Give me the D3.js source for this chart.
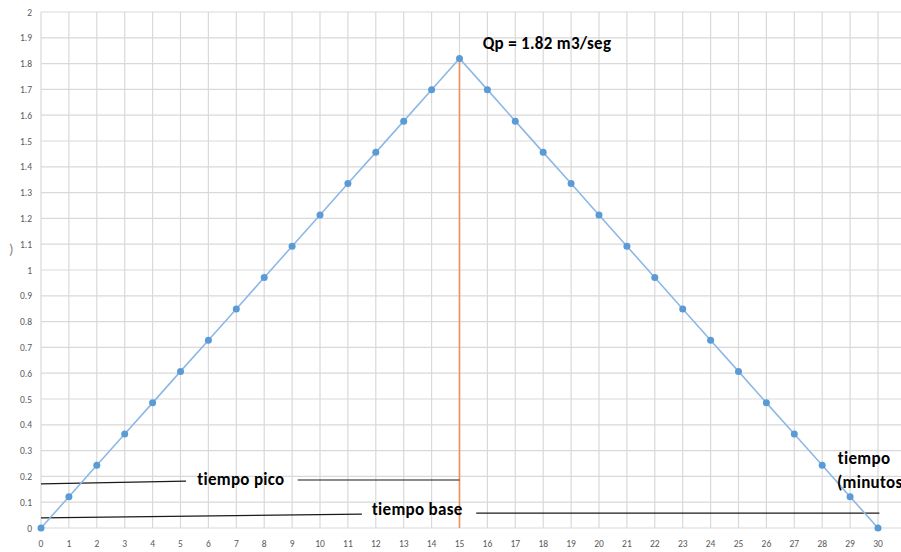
<!DOCTYPE html>
<html><head><meta charset="utf-8">
<script src="https://cdn.jsdelivr.net/npm/d3@7"></script>
<style>body{margin:0;background:#fff;overflow:hidden}svg{display:block}</style>
</head><body>
<svg id="c" width="901" height="552"></svg>
<script>
const timeMin = [0,1,2,3,4,5,6,7,8,9,10,11,12,13,14,15,16,17,18,19,20,21,22,23,24,25,26,27,28,29,30];
const flow = [0,0.121,0.243,0.364,0.485,0.607,0.728,0.849,0.971,1.092,1.213,1.335,1.456,1.577,1.699,1.82,1.699,1.577,1.456,1.335,1.213,1.092,0.971,0.849,0.728,0.607,0.485,0.364,0.243,0.121,0];
const xTicks = d3.range(0,32,1);
const yTicks = [0,0.1,0.2,0.3,0.4,0.5,0.6,0.7,0.8,0.9,1,1.1,1.2,1.3,1.4,1.5,1.6,1.7,1.8,1.9,2];
const peakT = 15, peakQ = 1.82;
const picoLines = [[[0,0.171],[5.2,0.182]],[[9.2,0.186],[15,0.186]]];
const baseLines = [[[0,0.039],[11.5,0.054]],[[15.6,0.058],[30.05,0.058]]];

const svg = d3.select('#c');
const x = d3.scaleLinear().domain([0,31]).range([41,41+27.9*31]);
const y = d3.scaleLinear().domain([0,2]).range([528,12]);

// grid
svg.append('g').selectAll('line').data(yTicks).join('line')
  .attr('x1',41).attr('x2',901).attr('y1',d=>y(d)).attr('y2',d=>y(d))
  .attr('stroke','#d9d9d9').attr('stroke-width',1.2);
svg.append('g').selectAll('line').data(xTicks).join('line')
  .attr('x1',d=>x(d)).attr('x2',d=>x(d)).attr('y1',y(2)).attr('y2',y(0))
  .attr('stroke','#d9d9d9').attr('stroke-width',1.2);

// axis labels
const lf = 'Carlito, Lato, "Liberation Sans", sans-serif';
svg.append('g').selectAll('text').data(yTicks).join('text')
  .attr('x',32).attr('y',d=>y(d)+3.5).attr('text-anchor','end')
  .attr('font-family',lf).attr('font-size',9.5).attr('fill','#595959')
  .text(d=>d3.format('')(d));
svg.append('g').selectAll('text').data(xTicks).join('text')
  .attr('x',d=>x(d)).attr('y',547).attr('text-anchor','middle')
  .attr('font-family',lf).attr('font-size',9.5).attr('fill','#595959')
  .text(d=>d);
svg.append('text').attr('x',9).attr('y',254).attr('font-family',lf).attr('font-size',15).attr('fill','#8a8a8a').text(')');

// orange vertical
svg.append('line').attr('x1',x(peakT)).attr('x2',x(peakT)).attr('y1',y(0)).attr('y2',y(peakQ))
  .attr('stroke','#F0905A').attr('stroke-width',1.6);

// annotation lines
const ln = d3.line().x(d=>x(d[0])).y(d=>y(d[1]));
svg.append('g').selectAll('path').data(picoLines.concat(baseLines)).join('path')
  .attr('d',ln).attr('stroke','#1a1a1a').attr('stroke-width',1.2).attr('fill','none');

// series
const pts = timeMin.map((t,i)=>[t,flow[i]]);
svg.append('path').datum(pts).attr('d',ln).attr('fill','none').attr('stroke','#8DB8E6').attr('stroke-width',1.6);
svg.append('g').selectAll('circle').data(pts).join('circle')
  .attr('cx',d=>x(d[0])).attr('cy',d=>y(d[1])).attr('r',3.5).attr('fill','#5B9BD5');

// texts
const bf = 'Carlito, Lato, "Open Sans", sans-serif';
function lab(t,tx,ty){svg.append('text').attr('x',x(tx)).attr('y',y(ty)).attr('font-family',bf).attr('font-weight','bold').attr('font-size',17).attr('letter-spacing',0.3).attr('fill','#000').text(t);}
lab('Qp = 1.82 m3/seg',15.83,1.857);
lab('tiempo pico',5.6,0.165);
lab('tiempo base',11.86,0.052);
lab('tiempo',28.56,0.248);
lab('(minutos',28.53,0.155);
</script>
</body></html>
